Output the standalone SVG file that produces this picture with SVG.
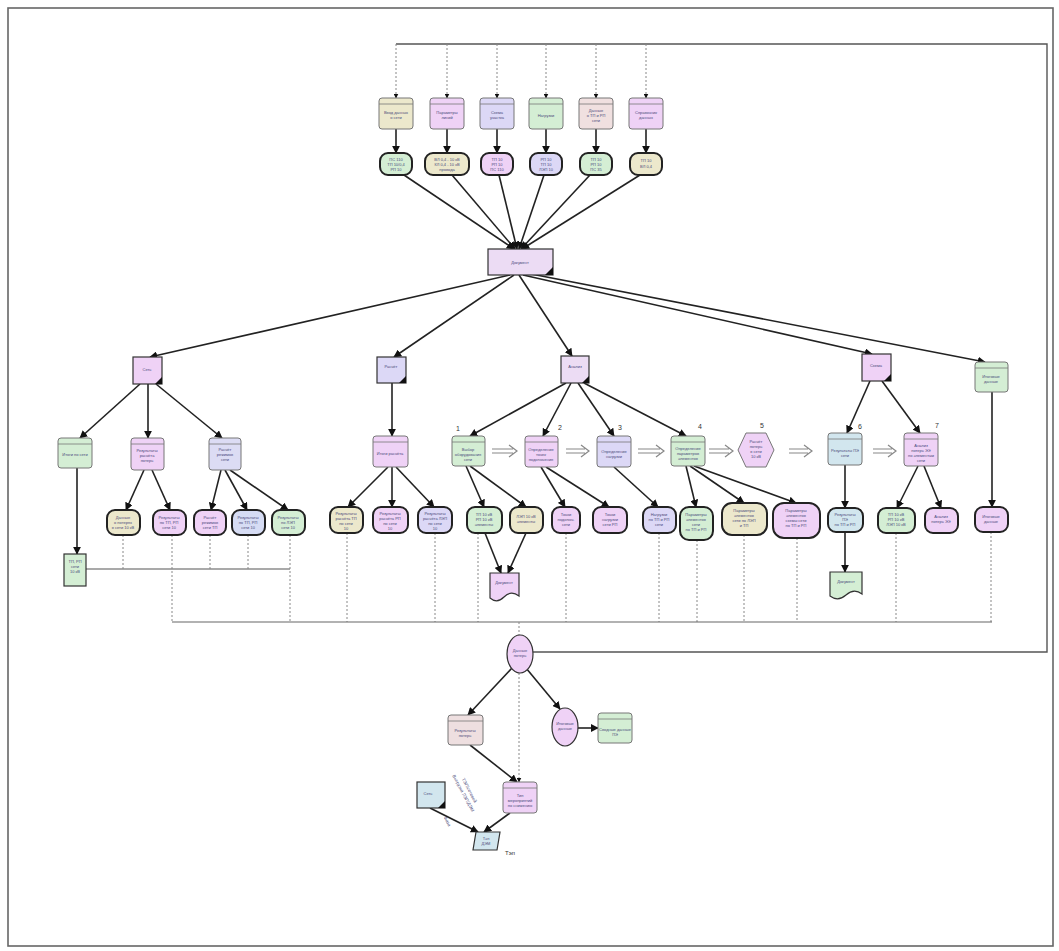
<svg xmlns="http://www.w3.org/2000/svg" width="1059" height="951" viewBox="0 0 1059 951">
<style>
text{font-family:"Liberation Sans","DejaVu Sans",sans-serif;font-size:4px;fill:#4a4a7a;text-anchor:middle}
.lbl{font-size:7px;fill:#333}
.n{stroke:#777;stroke-width:1}
.p{stroke:#222;stroke-width:2}
.k{stroke:#333;stroke-width:1.2}
.pk{fill:#efd2f6}.lv{fill:#dcd8f6}.gr{fill:#d4eed4}.tn{fill:#ece8cc}.bl{fill:#d2e6ee}.ct{fill:#ecdcf4}
.hd{stroke:#777;stroke-width:0.8}
.c{stroke:#222;stroke-width:1.6;fill:none;marker-end:url(#a)}
.s{stroke:#222;stroke-width:1.6;fill:none}
.d{stroke:#888;stroke-width:1;fill:none;stroke-dasharray:2 2}
.dd{stroke:#888;stroke-width:1;fill:none;stroke-dasharray:2 2;marker-end:url(#a)}
.f{stroke:#555;stroke-width:1.4;fill:none}
.da{stroke:#888;stroke-width:1.2;fill:none}
.tri{fill:#111}
</style>
<defs>
<marker id="a" viewBox="0 0 10 10" refX="9" refY="5" markerWidth="5" markerHeight="5" orient="auto"><path d="M0,0 L10,5 L0,10 Z" fill="#111"/></marker>
</defs>

<!-- frame -->
<rect x="8" y="8" width="1045" height="938" fill="none" stroke="#666" stroke-width="1.6"/>

<g id="connectors">
<!-- top bus loop -->
<path class="f" d="M396,44 H1047 V652 H533"/>
<path class="dd" d="M396,44 V98"/><path class="dd" d="M447,44 V98"/><path class="dd" d="M497,44 V98"/>
<path class="dd" d="M546,44 V98"/><path class="dd" d="M596,44 V98"/><path class="dd" d="M646,44 V98"/>
<path class="c" d="M396,129 V153"/><path class="c" d="M447,129 V153"/><path class="c" d="M497,129 V153"/>
<path class="c" d="M546,129 V153"/><path class="c" d="M596,129 V153"/><path class="c" d="M646,129 V153"/>
<!-- to center -->
<path class="c" d="M404,175 L514,249"/><path class="c" d="M452,175 L515,249"/><path class="c" d="M499,175 L517,249"/>
<path class="c" d="M544,175 L519,249"/><path class="c" d="M590,175 L521,249"/><path class="c" d="M640,175 L522,249"/>
<!-- center to level2 -->
<path class="c" d="M510,275 L150,357"/>
<path class="c" d="M514,275 L394,357"/>
<path class="c" d="M519,275 L572,356"/>
<path class="c" d="M523,275 L872,354"/>
<path class="c" d="M526,273 L985,362"/>
<!-- level2 to level3 -->
<path class="c" d="M140,384 L80,438"/><path class="c" d="M148,384 V438"/><path class="c" d="M156,384 L222,438"/>
<path class="c" d="M392,383 V436"/>
<path class="c" d="M566,383 L470,436"/><path class="c" d="M571,383 L543,436"/><path class="c" d="M578,383 L614,436"/><path class="c" d="M584,383 L686,436"/>
<path class="c" d="M870,381 L847,433"/><path class="c" d="M882,381 L920,433"/>
<path class="c" d="M992,392 V507"/>
<!-- level3 to level4 -->
<path class="c" d="M77,468 V554"/>
<path class="c" d="M144,470 L126,510"/><path class="c" d="M152,470 L170,510"/>
<path class="c" d="M221,470 L211,510"/><path class="c" d="M225,470 L247,510"/><path class="c" d="M230,470 L288,510"/>
<path class="c" d="M388,467 L348,507"/><path class="c" d="M392,467 V507"/><path class="c" d="M396,467 L434,507"/>
<path class="c" d="M466,466 L484,507"/><path class="c" d="M470,466 L526,507"/>
<path class="c" d="M541,467 L565,507"/><path class="c" d="M546,467 L609,507"/>
<path class="c" d="M614,467 L658,507"/>
<path class="c" d="M686,466 L696,507"/><path class="c" d="M690,466 L744,503"/><path class="c" d="M694,466 L796,503"/>
<path class="c" d="M845,465 V508"/><path class="c" d="M845,532 V572"/>
<path class="c" d="M918,466 L897,508"/><path class="c" d="M924,466 L941,508"/>
<path class="c" d="M485,533 L501,573"/><path class="c" d="M526,533 L508,573"/>
<!-- double arrows -->
<path class="da" d="M492,449 H513 M492,453 H513 M509,445 L517,451 L509,457"/>
<path class="da" d="M566,449 H585 M566,453 H585 M581,445 L589,451 L581,457"/>
<path class="da" d="M638,449 H660 M638,453 H660 M656,445 L664,451 L656,457"/>
<path class="da" d="M709,449 H729 M709,453 H729 M725,445 L733,451 L725,457"/>
<path class="da" d="M789,449 H808 M789,453 H808 M804,445 L812,451 L804,457"/>
<path class="da" d="M873,449 H892 M873,453 H892 M888,445 L896,451 L888,457"/>
<!-- dashed to buses -->
<path class="s" style="stroke:#555;stroke-width:1.2" d="M86,569 H290"/>
<path class="d" d="M123,535 V569"/><path class="d" d="M210,535 V569"/><path class="d" d="M248,535 V569"/>
<path class="d" d="M172,535 V622"/><path class="d" d="M290,535 V622"/><path class="d" d="M347,533 V622"/>
<path class="d" d="M435,533 V622"/><path class="d" d="M478,533 V622"/><path class="d" d="M566,533 V622"/>
<path class="d" d="M659,533 V622"/><path class="d" d="M697,540 V622"/><path class="d" d="M744,535 V622"/>
<path class="d" d="M797,538 V622"/><path class="d" d="M896,533 V622"/><path class="d" d="M991,532 V622"/>
<path class="s" style="stroke:#666;stroke-width:1.2" d="M172,622 H992"/>
<path class="d" d="M519,622 V635"/>
<!-- bottom section -->
<path class="c" d="M512,668 L468,715"/>
<path class="c" d="M526,668 L560,709"/>
<path class="dd" d="M519,673 V782"/>
<path class="c" d="M577,728 H598"/>
<path class="c" d="M470,745 L517,782"/>
<path class="c" d="M430,808 L478,832"/>
<path class="c" d="M510,813 L484,832"/>
</g>

<!-- top stored boxes -->
<g id="t1"><rect class="n tn" x="379" y="98" width="34" height="31" rx="3"/><line class="hd" x1="379" y1="104" x2="413" y2="104"/><text x="396" y="114">Ввод данных</text><text x="396" y="119">о сети</text></g>
<g id="t2"><rect class="n pk" x="430" y="98" width="34" height="31" rx="3"/><line class="hd" x1="430" y1="104" x2="464" y2="104"/><text x="447" y="114">Параметры</text><text x="447" y="119">линий</text></g>
<g id="t3"><rect class="n lv" x="480" y="98" width="34" height="31" rx="3"/><line class="hd" x1="480" y1="104" x2="514" y2="104"/><text x="497" y="114">Схема</text><text x="497" y="119">участка</text></g>
<g id="t4"><rect class="n gr" x="529" y="98" width="34" height="31" rx="3"/><line class="hd" x1="529" y1="104" x2="563" y2="104"/><text x="546" y="117">Нагрузки</text></g>
<g id="t5"><rect class="n tn" x="579" y="98" width="34" height="31" rx="3" style="fill:#f0e0e0"/><line class="hd" x1="579" y1="104" x2="613" y2="104"/><text x="596" y="112">Данные</text><text x="596" y="117">о ТП и РП</text><text x="596" y="122">сети</text></g>
<g id="t6"><rect class="n pk" x="629" y="98" width="34" height="31" rx="3"/><line class="hd" x1="629" y1="104" x2="663" y2="104"/><text x="646" y="114">Справочник</text><text x="646" y="119">данных</text></g>

<!-- second row pills -->
<g id="r1"><rect class="p gr" x="380" y="153" width="32" height="22" rx="8"/><text x="396" y="161">ПС 110</text><text x="396" y="166">ТП 10/0,4</text><text x="396" y="171">РП 10</text></g>
<g id="r2"><rect class="p tn" x="425" y="153" width="44" height="22" rx="8"/><text x="447" y="161">ВЛ 0,4 - 10 кВ</text><text x="447" y="166">КЛ 0,4 - 10 кВ</text><text x="447" y="171">провода</text></g>
<g id="r3"><rect class="p pk" x="481" y="153" width="32" height="22" rx="8"/><text x="497" y="161">ТП 10</text><text x="497" y="166">РП 10</text><text x="497" y="171">ПС 110</text></g>
<g id="r4"><rect class="p lv" x="530" y="153" width="32" height="22" rx="8"/><text x="546" y="161">РП 10</text><text x="546" y="166">ТП 10</text><text x="546" y="171">ЛЭП 10</text></g>
<g id="r5"><rect class="p gr" x="580" y="153" width="32" height="22" rx="8"/><text x="596" y="161">ТП 10</text><text x="596" y="166">РП 10</text><text x="596" y="171">ПС 35</text></g>
<g id="r6"><rect class="p tn" x="630" y="153" width="32" height="22" rx="8"/><text x="646" y="162">ТП 10</text><text x="646" y="168">ВЛ 0,4</text></g>

<!-- center -->
<g id="center"><rect class="k ct" x="488" y="249" width="65" height="26"/><polygon class="tri" points="545,275 553,275 553,267"/><text x="520" y="264">Документ</text></g>

<!-- level 2 -->
<g id="L"><rect class="k pk" x="133" y="357" width="29" height="27"/><polygon class="tri" points="155,384 162,384 162,377"/><text x="147" y="371">Сеть</text></g>
<g id="ML"><rect class="k lv" x="377" y="357" width="29" height="26"/><polygon class="tri" points="399,383 406,383 406,376"/><text x="391" y="368">Расчёт</text></g>
<g id="M"><rect class="k ct" x="561" y="356" width="28" height="27"/><polygon class="tri" points="582,383 589,383 589,376"/><text x="575" y="368">Анализ</text></g>
<g id="R"><rect class="k pk" x="862" y="354" width="29" height="27"/><polygon class="tri" points="884,381 891,381 891,374"/><text x="876" y="367">Схема</text></g>
<g id="FR"><rect class="n gr" x="975" y="362" width="33" height="30" rx="3"/><line class="hd" x1="975" y1="368" x2="1008" y2="368"/><text x="991" y="378">Итоговые</text><text x="991" y="383">данные</text></g>

<!-- level 3 -->
<g id="A1"><rect class="n gr" x="58" y="438" width="34" height="30" rx="3"/><line class="hd" x1="58" y1="444" x2="92" y2="444"/><text x="75" y="456">Итоги по сети</text></g>
<g id="A2"><rect class="n pk" x="131" y="438" width="33" height="32" rx="3"/><line class="hd" x1="131" y1="444" x2="164" y2="444"/><text x="147" y="452">Результаты</text><text x="147" y="457">расчёта</text><text x="147" y="462">потерь</text></g>
<g id="A3"><rect class="n bl" x="209" y="438" width="32" height="32" rx="3" style="fill:#dcdcf4"/><line class="hd" x1="209" y1="444" x2="241" y2="444"/><text x="225" y="451">Расчёт</text><text x="225" y="456">режимов</text><text x="225" y="461">сети</text></g>
<g id="B1"><rect class="n pk" x="373" y="436" width="35" height="31" rx="3"/><line class="hd" x1="373" y1="442" x2="408" y2="442"/><text x="390" y="455">Итоги расчёта</text></g>
<g id="S1"><rect class="n gr" x="452" y="436" width="33" height="30" rx="3"/><line class="hd" x1="452" y1="442" x2="485" y2="442"/><text x="468" y="451">Выбор</text><text x="468" y="456">оборудования</text><text x="468" y="461">сети</text><text class="lbl" x="458" y="431">1</text></g>
<g id="S2"><rect class="n pk" x="525" y="436" width="33" height="31" rx="3"/><line class="hd" x1="525" y1="442" x2="558" y2="442"/><text x="541" y="451">Определение</text><text x="541" y="456">точек</text><text x="541" y="461">подключения</text><text class="lbl" x="560" y="430">2</text></g>
<g id="S3"><rect class="n lv" x="597" y="436" width="34" height="31" rx="3"/><line class="hd" x1="597" y1="442" x2="631" y2="442"/><text x="614" y="453">Определение</text><text x="614" y="458">нагрузки</text><text class="lbl" x="620" y="430">3</text></g>
<g id="S4"><rect class="n gr" x="671" y="436" width="34" height="30" rx="3"/><line class="hd" x1="671" y1="442" x2="705" y2="442"/><text x="688" y="450">Определение</text><text x="688" y="455">параметров</text><text x="688" y="460">элементов</text><text class="lbl" x="700" y="429">4</text></g>
<g id="S5"><polygon class="n pk" points="738,450 746,433 766,433 774,450 766,467 746,467"/><text x="756" y="443">Расчёт</text><text x="756" y="448">потерь</text><text x="756" y="453">в сети</text><text x="756" y="458">10 кВ</text><text class="lbl" x="762" y="428">5</text></g>
<g id="S6"><rect class="n bl" x="828" y="433" width="34" height="32" rx="3"/><line class="hd" x1="828" y1="439" x2="862" y2="439"/><text x="845" y="452">Результаты ПЭ</text><text x="845" y="457">сети</text><text class="lbl" x="860" y="429">6</text></g>
<g id="S7"><rect class="n pk" x="904" y="433" width="34" height="33" rx="3"/><line class="hd" x1="904" y1="439" x2="938" y2="439"/><text x="921" y="447">Анализ</text><text x="921" y="452">потерь ЭЭ</text><text x="921" y="457">по элементам</text><text x="921" y="462">сети</text><text class="lbl" x="937" y="428">7</text></g>

<!-- level 4 pills -->
<g id="p1"><rect class="p tn" x="107" y="510" width="33" height="25" rx="8"/><text x="123" y="519">Данные</text><text x="123" y="524">о потерях</text><text x="123" y="529">в сети 10 кВ</text></g>
<g id="p2"><rect class="p pk" x="153" y="510" width="33" height="25" rx="8"/><text x="169" y="519">Результаты</text><text x="169" y="524">по ТП, РП</text><text x="169" y="529">сети 10</text></g>
<g id="p3"><rect class="p pk" x="194" y="510" width="32" height="25" rx="8"/><text x="210" y="519">Расчёт</text><text x="210" y="524">режимов</text><text x="210" y="529">сети ТП</text></g>
<g id="p4"><rect class="p bl" x="232" y="510" width="33" height="25" rx="8" style="fill:#d6dcf4"/><text x="248" y="519">Результаты</text><text x="248" y="524">по ТП, РП</text><text x="248" y="529">сети 10</text></g>
<g id="p5"><rect class="p gr" x="272" y="510" width="33" height="25" rx="8"/><text x="288" y="519">Результаты</text><text x="288" y="524">по ЛЭП</text><text x="288" y="529">сети 10</text></g>
<g id="p6"><rect class="p tn" x="330" y="507" width="33" height="26" rx="8"/><text x="346" y="515">Результаты</text><text x="346" y="520">расчёта ТП</text><text x="346" y="525">по сети</text><text x="346" y="530">10</text></g>
<g id="p7"><rect class="p pk" x="373" y="507" width="35" height="26" rx="8"/><text x="390" y="515">Результаты</text><text x="390" y="520">расчёта РП</text><text x="390" y="525">по сети</text><text x="390" y="530">10</text></g>
<g id="p8"><rect class="p lv" x="418" y="507" width="34" height="26" rx="8"/><text x="435" y="515">Результаты</text><text x="435" y="520">расчёта ЛЭП</text><text x="435" y="525">по сети</text><text x="435" y="530">10</text></g>
<g id="p9"><rect class="p gr" x="467" y="507" width="35" height="26" rx="8"/><text x="484" y="516">ТП 10 кВ</text><text x="484" y="521">РП 10 кВ</text><text x="484" y="526">элементы</text></g>
<g id="p10"><rect class="p tn" x="510" y="507" width="33" height="26" rx="8"/><text x="526" y="518">ЛЭП 10 кВ</text><text x="526" y="523">элементы</text></g>
<g id="p11"><rect class="p pk" x="552" y="507" width="28" height="26" rx="8"/><text x="566" y="516">Точки</text><text x="566" y="521">подключ.</text><text x="566" y="526">сети</text></g>
<g id="p12"><rect class="p pk" x="593" y="507" width="34" height="26" rx="8"/><text x="610" y="516">Точки</text><text x="610" y="521">нагрузки</text><text x="610" y="526">сети РП</text></g>
<g id="p13"><rect class="p lv" x="643" y="507" width="33" height="26" rx="8"/><text x="659" y="516">Нагрузки</text><text x="659" y="521">по ТП и РП</text><text x="659" y="526">сети</text></g>
<g id="p14"><rect class="p gr" x="680" y="507" width="33" height="33" rx="9"/><text x="696" y="516">Параметры</text><text x="696" y="521">элементов</text><text x="696" y="526">сети</text><text x="696" y="531">по ТП и РП</text></g>
<g id="p15"><rect class="p tn" x="722" y="503" width="45" height="32" rx="10"/><text x="744" y="512">Параметры</text><text x="744" y="517">элементов</text><text x="744" y="522">сети по ЛЭП</text><text x="744" y="527">и ТП</text></g>
<g id="p16"><rect class="p pk" x="773" y="503" width="47" height="35" rx="11"/><text x="796" y="512">Параметры</text><text x="796" y="517">элементов</text><text x="796" y="522">схемы сети</text><text x="796" y="527">по ТП и РП</text></g>
<g id="p17"><rect class="p bl" x="828" y="508" width="35" height="24" rx="8"/><text x="845" y="516">Результаты</text><text x="845" y="521">ПЭ</text><text x="845" y="526">по ТП и РП</text></g>
<g id="p18"><rect class="p gr" x="878" y="508" width="37" height="25" rx="8"/><text x="896" y="516">ТП 10 кВ</text><text x="896" y="521">РП 10 кВ</text><text x="896" y="526">ЛЭП 10 кВ</text></g>
<g id="p19"><rect class="p pk" x="925" y="508" width="33" height="25" rx="8"/><text x="941" y="518">Анализ</text><text x="941" y="523">потерь ЭЭ</text></g>
<g id="p20"><rect class="p pk" x="975" y="507" width="33" height="25" rx="8"/><text x="991" y="518">Итоговые</text><text x="991" y="523">данные</text></g>

<!-- documents -->
<g id="docL"><rect class="k gr" x="64" y="554" width="22" height="32"/><text x="75" y="563">ТП, РП</text><text x="75" y="568">сети</text><text x="75" y="573">10 кВ</text></g>
<g id="doc1"><path class="k pk" d="M490,573 H519 V596 Q511,590 504,597 Q497,604 490,598 Z"/><text x="504" y="584">Документ</text></g>
<g id="doc2"><path class="k gr" d="M830,572 H862 V594 Q854,588 846,595 Q838,602 830,596 Z"/><text x="846" y="583">Документ</text></g>

<!-- bottom section -->
<g id="E1"><ellipse class="k pk" cx="520" cy="654" rx="13" ry="19"/><text x="520" y="652">Данные</text><text x="520" y="657">потерь</text></g>
<g id="B_L"><rect class="n tn" x="448" y="715" width="35" height="30" rx="3" style="fill:#eedfe0"/><line class="hd" x1="448" y1="721" x2="483" y2="721"/><text x="465" y="732">Результаты</text><text x="465" y="737">потерь</text></g>
<g id="E2"><ellipse class="k pk" cx="565" cy="727" rx="13" ry="19"/><text x="565" y="725">Итоговые</text><text x="565" y="730">данные</text></g>
<g id="B_G"><rect class="n gr" x="598" y="713" width="34" height="30" rx="3"/><line class="hd" x1="598" y1="719" x2="632" y2="719"/><text x="615" y="731">Сводные данные</text><text x="615" y="736">ПЭ</text></g>
<g id="B_C"><rect class="n pk" x="503" y="782" width="34" height="31" rx="3"/><line class="hd" x1="503" y1="788" x2="537" y2="788"/><text x="520" y="797">Тип</text><text x="520" y="802">мероприятий</text><text x="520" y="807">по снижению</text></g>
<g id="B_BL"><rect class="k bl" x="417" y="782" width="28" height="26"/><polygon class="tri" points="438,808 445,808 445,801"/><text x="428" y="795">Сеть</text></g>
<g id="PG"><polygon class="k bl" points="476,832 500,832 497,850 473,850"/><text x="486" y="840">Тэп</text><text x="486" y="845">ДЭМ</text></g>
<text x="462" y="794" transform="rotate(62 462 794)" style="font-size:4.5px">Выгрузка ЛЭП/ДЭМ</text>
<text x="468" y="791" transform="rotate(62 468 791)" style="font-size:4.5px">ТЭП/сетевой</text>
<text x="446" y="822" transform="rotate(62 446 822)" style="font-size:4.5px">Фаза</text>
<text x="510" y="855" style="font-size:6px;fill:#333">Тэп</text>
</svg>
